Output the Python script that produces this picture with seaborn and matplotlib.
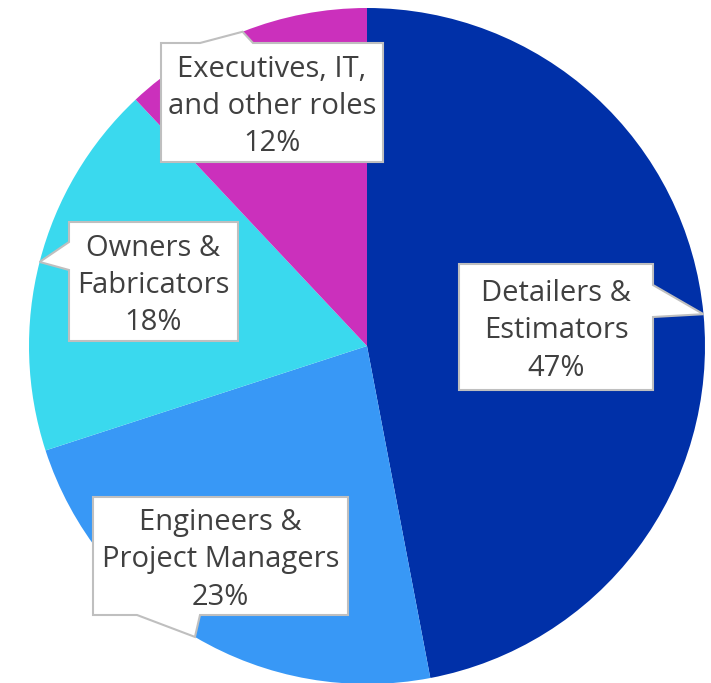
import numpy as np
import matplotlib
matplotlib.use('Agg')
import matplotlib.pyplot as plt
import seaborn as sns
from matplotlib.patches import Polygon

# data
roles = ['Detailers &\nEstimators', 'Engineers &\nProject Managers',
         'Owners &\nFabricators', 'Executives, IT,\nand other roles']
shares = [47, 23, 18, 12]
colors = ['#0030A8', '#3898F6', '#3AD9EE', '#CB30BC']

sns.set_style('white')
plt.rcParams['font.family'] = ['Open Sans', 'DejaVu Sans']

W, H = 711, 683
fig = plt.figure(figsize=(W / 100, H / 100), dpi=100)
ax = fig.add_axes([0, 0, 1, 1])

cx, cy, r = 367, 346, 338   # pixel coords, y down
wedges, _ = ax.pie(shares, colors=sns.color_palette(colors), startangle=90,
                   counterclock=False, center=(cx, H - cy), radius=r,
                   wedgeprops=dict(linewidth=0))
ax.set_xlim(0, W)
ax.set_ylim(0, H)
ax.set_aspect('equal')
ax.axis('off')

# callout boxes: (x0, y0, x1, y1) in pixels, side of pointer, base span
boxes = [
    ((459, 264, 653, 390), 'right', (285, 317)),
    ((93, 497, 348, 615), 'bottom', (137, 200)),
    ((69, 222, 238, 341), 'left', (242, 270)),
    ((161, 43, 383, 162), 'top', (200, 253)),
]


def callout(box, side, base, tip):
    x0, y0, x1, y1 = box
    b1, b2 = base
    if side == 'right':
        pts = [(x0, y0), (x1, y0), (x1, b1), tip, (x1, b2), (x1, y1), (x0, y1)]
    elif side == 'left':
        pts = [(x0, y0), (x1, y0), (x1, y1), (x0, y1), (x0, b2), tip, (x0, b1)]
    elif side == 'top':
        pts = [(x0, y0), (b1, y0), tip, (b2, y0), (x1, y0), (x1, y1), (x0, y1)]
    else:
        pts = [(x0, y0), (x1, y0), (x1, y1), (b2, y1), tip, (b1, y1), (x0, y1)]
    pts = [(px, H - py) for px, py in pts]
    ax.add_patch(Polygon(pts, closed=True, fc='white', ec='#BFBFBF', lw=1.5, zorder=3))


for w, role, pct, (box, side, base) in zip(wedges, roles, shares, boxes):
    mid = np.deg2rad((w.theta1 + w.theta2) / 2)
    tip = (cx + r * np.cos(mid), cy - r * np.sin(mid))
    callout(box, side, base, tip)
    x0, y0, x1, y1 = box
    ax.text((x0 + x1) / 2, H - (y0 + y1) / 2 - 4, f'{role}\n{pct}%', ha='center', va='center',
            fontsize=21, color='#404040', linespacing=1.38, zorder=4)

fig.savefig('out.png', dpi=100)
